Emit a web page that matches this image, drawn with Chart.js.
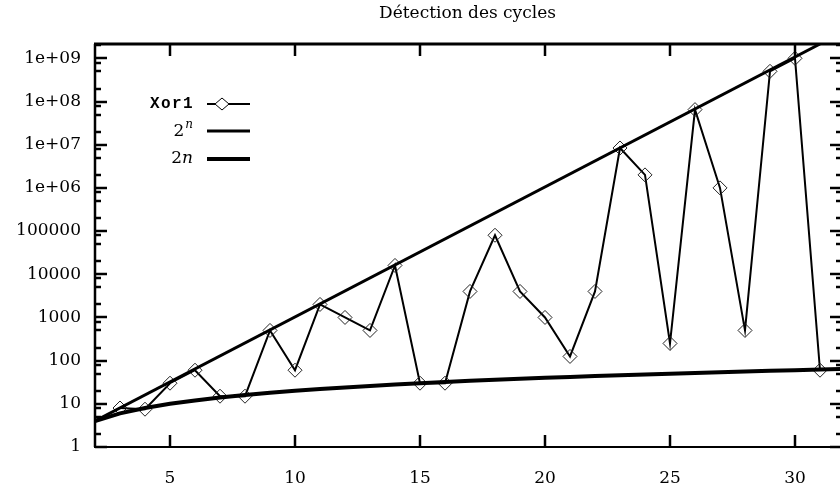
<!DOCTYPE html>
<html><head><meta charset="utf-8">
<script src="https://cdn.jsdelivr.net/npm/chart.js@4.4.1/dist/chart.umd.min.js"></script>
<style>html,body{margin:0;padding:0;background:#fff}#wrap{width:840px;height:489px}</style>
</head><body><div id="wrap"><canvas id="c" width="840" height="489"></canvas></div>
<script>
// ---- data ----
const chartTitle = "Détection des cycles";
const xorX = [3,4,5,6,7,8,9,10,11,12,13,14,15,16,17,18,19,20,21,22,23,24,25,26,27,28,29,30,31];
const xorY = [8,7.5,30,60,15,15,500,60,2000,1000,500,16000,30,30,4000,80000,4000,1000,125,4000,8400000,2000000,250,65000000,1000000,500,500000000,1000000000,60];
const powX = [2,31];
const powY = [4,2147483648];
const linX = [2,3,4,5,6,7,8,9,10,11,12,13,14,15,16,17,18,19,20,21,22,23,24,25,26,27,28,29,30,31,32];
const linY = [4,6,8,10,12,14,16,18,20,22,24,26,28,30,32,34,36,38,40,42,44,46,48,50,52,54,56,58,60,62,64];
const xTicks = [5,10,15,20,25,30];
const yTicks = [1,10,100,1000,10000,100000,1e6,1e7,1e8,1e9];
const yTickLabels = ["1","10","100","1000","10000","100000","1e+06","1e+07","1e+08","1e+09"];
const yMinorMult = [2,5,8];
const seriesNames = ["Xor1","2^n","2n"];

const pts = (xs, ys) => xs.map((x,i)=>({x:x, y:ys[i]}));
const serif = '"DejaVu Serif", serif';

const framePlugin = {
  id:'frame',
  afterDatasetsDraw(chart){
    const ctx = chart.ctx, a = chart.chartArea;
    const xs = chart.scales.x, ys = chart.scales.y;
    ctx.save();
    ctx.strokeStyle = '#000';
    ctx.lineCap = 'butt';
    // border
    ctx.lineWidth = 3;
    ctx.beginPath(); ctx.moveTo(a.left-1, a.top); ctx.lineTo(a.right, a.top); ctx.stroke();
    ctx.lineWidth = 2.5;
    ctx.beginPath(); ctx.moveTo(a.left, a.top); ctx.lineTo(a.left, a.bottom); ctx.stroke();
    ctx.lineWidth = 2;
    ctx.beginPath(); ctx.moveTo(a.left-1, a.bottom); ctx.lineTo(a.right, a.bottom); ctx.stroke();
    // x ticks
    ctx.lineWidth = 2.5;
    xTicks.forEach(v=>{
      const px = Math.round(xs.getPixelForValue(v));
      ctx.beginPath(); ctx.moveTo(px, a.bottom); ctx.lineTo(px, a.bottom-12); ctx.stroke();
      ctx.beginPath(); ctx.moveTo(px, a.top); ctx.lineTo(px, a.top+12); ctx.stroke();
    });
    // y major ticks
    yTicks.forEach(v=>{
      const py = Math.round(ys.getPixelForValue(v));
      ctx.lineWidth = 2.5;
      ctx.beginPath(); ctx.moveTo(a.left, py); ctx.lineTo(a.left+12, py); ctx.stroke();
      ctx.beginPath(); ctx.moveTo(a.right, py); ctx.lineTo(a.right-10, py); ctx.stroke();
      yMinorMult.forEach(m=>{
        const val = v*m;
        if (val > ys.max) return;
        const pm = Math.round(ys.getPixelForValue(val));
        ctx.lineWidth = 2.5;
        ctx.beginPath(); ctx.moveTo(a.left, pm); ctx.lineTo(a.left+6, pm); ctx.stroke();
        ctx.beginPath(); ctx.moveTo(a.right, pm); ctx.lineTo(a.right-4, pm); ctx.stroke();
      });
    });
    // title
    ctx.fillStyle = '#000';
    ctx.font = '17px ' + serif;
    ctx.textAlign = 'center'; ctx.textBaseline = 'middle';
    ctx.fillText(chartTitle, (a.left+a.right)/2, 14);
    // legend
    const rows = [104, 131, 159];
    const textRight = 193, l0 = 207, l1 = 250;
    // Xor1
    ctx.font = 'bold 16px "Liberation Mono", monospace';
    ctx.textAlign = 'left'; ctx.textBaseline = 'middle';
    const name = seriesNames[0];
    const step = 11;
    for (let i=0;i<name.length;i++){
      ctx.fillText(name[i], textRight - (name.length-i)*step + 1, rows[0]);
    }
    ctx.lineWidth = 2;
    ctx.beginPath(); ctx.moveTo(l0, rows[0]); ctx.lineTo(l1, rows[0]); ctx.stroke();
    const cx = 222, cy = rows[0];
    ctx.fillStyle = '#fff';
    ctx.lineWidth = 1;
    ctx.beginPath(); ctx.moveTo(cx-7,cy); ctx.lineTo(cx,cy-6); ctx.lineTo(cx+7,cy); ctx.lineTo(cx,cy+6); ctx.closePath();
    ctx.fill(); ctx.stroke();
    ctx.fillStyle = '#000';
    // 2^n
    ctx.font = 'italic 12px ' + serif;
    ctx.textAlign = 'right';
    const nw = ctx.measureText('n').width;
    ctx.fillText('n', textRight, rows[1]-6);
    ctx.font = '17px ' + serif;
    ctx.fillText('2', textRight - nw - 1, rows[1]+1);
    ctx.lineWidth = 3;
    ctx.beginPath(); ctx.moveTo(l0, rows[1]); ctx.lineTo(l1, rows[1]); ctx.stroke();
    // 2n
    ctx.font = 'italic 17px ' + serif;
    const nw2 = ctx.measureText('n').width;
    ctx.fillText('n', textRight, rows[2]);
    ctx.font = '17px ' + serif;
    ctx.fillText('2', textRight - nw2, rows[2]);
    ctx.lineWidth = 4;
    ctx.beginPath(); ctx.moveTo(l0, rows[2]); ctx.lineTo(l1, rows[2]); ctx.stroke();
    ctx.restore();
  }
};

new Chart(document.getElementById('c'), {
  type:'line',
  data:{
    datasets:[
      {label:seriesNames[1], data:pts(powX,powY), borderColor:'#000', borderWidth:3, pointRadius:0, tension:0},
      {label:seriesNames[2], data:pts(linX,linY), borderColor:'#000', borderWidth:4, pointRadius:0, tension:0},
      {label:seriesNames[0], data:pts(xorX,xorY), borderColor:'#000', borderWidth:2, tension:0,
       pointStyle:'rectRot', pointRadius:7, pointBorderWidth:1, pointBorderColor:'#222', pointBackgroundColor:'rgba(0,0,0,0)'}
    ]
  },
  options:{
    responsive:false, animation:false, devicePixelRatio:1,
    layout:{autoPadding:false, padding:{top:44,left:0,right:0,bottom:0}},
    plugins:{legend:{display:false}, title:{display:false}, tooltip:{enabled:false}},
    scales:{
      x:{type:'linear', min:2, max:31.8,
         grid:{display:false, drawTicks:false}, border:{display:false},
         afterBuildTicks:s=>{ s.ticks = xTicks.map(v=>({value:v})); },
         afterFit:s=>{ s.height = 42; s.paddingLeft = 0; s.paddingRight = 0; },
         ticks:{padding:21, color:'#000', font:{family:'DejaVu Serif', size:17}, maxRotation:0, autoSkip:false,
                callback:v=>String(v)}},
      y:{type:'logarithmic', min:1, max:2147483648,
         grid:{display:false, drawTicks:false}, border:{display:false},
         afterBuildTicks:s=>{ s.ticks = yTicks.map(v=>({value:v})); },
         afterFit:s=>{ s.width = 95; s.paddingTop = 0; s.paddingBottom = 0; },
         ticks:{padding:14, color:'#000', font:{family:'DejaVu Serif', size:17}, autoSkip:false,
                callback:(v)=>{ const i = yTicks.indexOf(v); return i>=0 ? yTickLabels[i] : ''; }}}
    }
  },
  plugins:[framePlugin]
});
</script></body></html>
